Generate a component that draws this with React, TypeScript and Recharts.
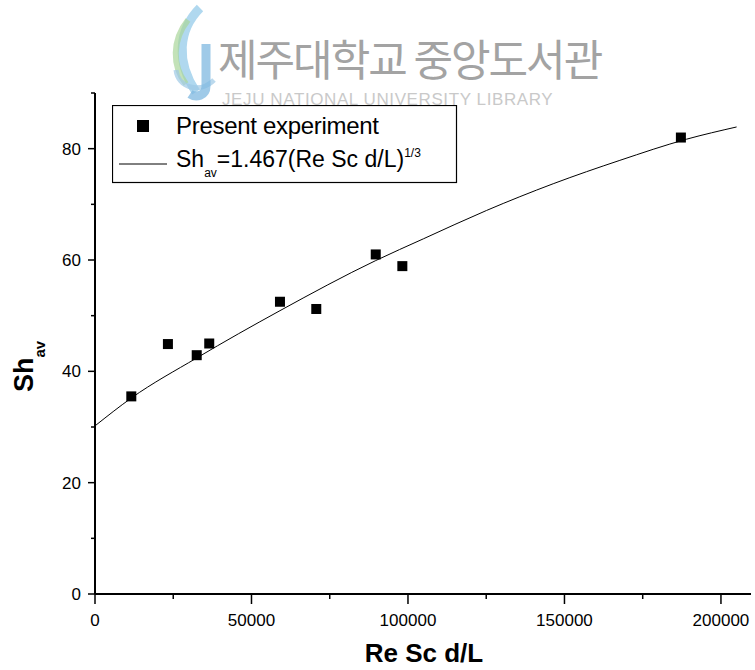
import React from 'react';
import { ComposedChart, XAxis, YAxis, Scatter, Line, Legend } from 'recharts';

// measured points (Re Sc d/L, Sh_av)
const expX = [11600, 23300, 32500, 36500, 59100, 70700, 89700, 98200, 187200];
const expY = [35.5, 44.9, 42.9, 45.0, 52.5, 51.2, 61.0, 58.9, 82.0];

// correlation curve
const fitX = [0, 11600, 32500, 59100, 89700, 104900, 125100, 146400, 167700, 189000, 205000];
const fitY = [30.2, 35.2, 42.4, 50.9, 59.9, 63.8, 68.9, 73.7, 77.9, 81.7, 83.9];

const xTicks = [0, 25000, 50000, 75000, 100000, 125000, 150000, 175000, 200000];
const yTicks = [0, 10, 20, 30, 40, 50, 60, 70, 80, 90];

const expData = expX.map((x, i) => ({ x, y: expY[i] }));
const fitData = fitX.map((x, i) => ({ x, y: fitY[i] }));

const FONT = 'Arial, "Liberation Sans", Helvetica, sans-serif';

const XTick = ({ x, y, payload }: any) => {
  const major = payload.value % 50000 === 0;
  return (
    <g>
      <line x1={x} y1={y} x2={x} y2={y + (major ? 10 : 5)} stroke="#000" strokeWidth={1.5} />
      {major && (
        <text x={x} y={y + 32} textAnchor="middle" fontSize={17} fontFamily={FONT} fill="#000">
          {payload.value}
        </text>
      )}
    </g>
  );
};

const YTick = ({ x, y, payload }: any) => {
  const major = payload.value % 20 === 0;
  return (
    <g>
      <line x1={x - (major ? 7 : 4)} y1={y} x2={x} y2={y} stroke="#000" strokeWidth={1.5} />
      {major && (
        <text x={x - 14} y={y} dy="0.35em" textAnchor="end" fontSize={17} fontFamily={FONT} fill="#000">
          {payload.value}
        </text>
      )}
    </g>
  );
};

const RightTick = ({ x, y, payload }: any) => {
  const major = payload.value % 20 === 0;
  return <line x1={x} y1={y} x2={x + (major ? 7 : 4)} y2={y} stroke="#000" strokeWidth={1.5} />;
};

const renderLegend = () => (
  <svg width={346} height={79} style={{ display: 'block' }}>
    <rect x={0.5} y={0.5} width={344} height={77} fill="none" stroke="#000" strokeWidth={1.2} />
    <rect x={25} y={15} width={12} height={12} fill="#000" />
    <text x={64} y={29} fontSize={24} fontFamily={FONT} letterSpacing={-0.3} fill="#000">
      Present experiment
    </text>
    <line x1={7} y1={59} x2={55} y2={59} stroke="#000" strokeWidth={1} />
    <text x={64} y={62} fontSize={23} fontFamily={FONT} fill="#000">
      Sh
      <tspan dy={10} fontSize={12}>av</tspan>
      <tspan dy={-10}>=1.467(Re Sc d/L)</tspan>
      <tspan dy={-10} fontSize={12}>1/3</tspan>
    </text>
  </svg>
);

const YTitle = () => (
  <text transform="translate(33,392) rotate(-90)" fontSize={27} fontWeight="bold" fontFamily={FONT} fill="#000">
    Sh
    <tspan dy={12} fontSize={15}>av</tspan>
  </text>
);

const Watermark = () => (
  <div style={{ position: 'absolute', left: 0, top: 0, width: 755, height: 120, pointerEvents: 'none' }}>
    <svg width={755} height={120}>
      <path d="M200 8 C178 30 176 62 196 92" stroke="#8fc7e8" strokeWidth={9} fill="none" opacity={0.7} />
      <path d="M188 20 C172 40 172 66 186 84" stroke="#a9d59a" strokeWidth={6} fill="none" opacity={0.7} />
      <path d="M176 70 C178 88 200 94 214 80" stroke="#9ec9e6" strokeWidth={5} fill="none" opacity={0.7} />
      <path d="M206 44 L206 86 C206 96 196 98 190 94" stroke="#7fb8e0" strokeWidth={9} fill="none" opacity={0.75} />
      <text x={218} y={76} fontSize={43} fontFamily='"Noto Sans CJK KR"' fill="#a3a3a3" letterSpacing={-2}>
        제주대학교 중앙도서관
      </text>
      <text x={222} y={105} fontSize={17} fontFamily={FONT} fill="#c9c9c9" letterSpacing={0.6}>
        JEJU NATIONAL UNIVERSITY LIBRARY
      </text>
    </svg>
  </div>
);

export default function App() {
  return (
    <div style={{ position: 'absolute', left: 0, top: 0, width: 755, height: 670, background: '#fff' }}>
      <ComposedChart width={755} height={670} margin={{ top: 93, right: 4, bottom: 0, left: 0 }}>
        <XAxis
          dataKey="x"
          type="number"
          domain={[0, 209600]}
          ticks={xTicks}
          interval={0}
          height={76}
          tickSize={0}
          tickMargin={0}
          tick={<XTick />}
          axisLine={{ stroke: '#000', strokeWidth: 2 }}
          allowDataOverflow
        />
        <XAxis
          xAxisId="top"
          dataKey="x"
          type="number"
          orientation="top"
          domain={[0, 209600]}
          height={0}
          tick={false}
          tickLine={false}
          axisLine={{ stroke: '#000', strokeWidth: 1.5 }}
          allowDataOverflow
        />
        <YAxis
          type="number"
          domain={[0, 90]}
          ticks={yTicks}
          interval={0}
          width={95}
          tickSize={0}
          tickMargin={0}
          tick={<YTick />}
          axisLine={{ stroke: '#000', strokeWidth: 2 }}
          allowDataOverflow
        />
        <YAxis
          yAxisId="r"
          type="number"
          orientation="right"
          domain={[0, 90]}
          ticks={yTicks}
          interval={0}
          width={0}
          tickSize={0}
          tickMargin={0}
          tick={<RightTick />}
          axisLine={{ stroke: '#000', strokeWidth: 1.5 }}
          allowDataOverflow
        />
        <Line
          data={fitData}
          dataKey="y"
          type="monotone"
          stroke="#000"
          strokeWidth={1}
          dot={false}
          activeDot={false}
          isAnimationActive={false}
        />
        <Scatter
          data={expData}
          dataKey="y"
          fill="#000"
          isAnimationActive={false}
          shape={(p: any) => <rect x={p.cx - 5} y={p.cy - 5} width={10} height={10} fill="#000" />}
        />
        <Legend
          layout="horizontal"
          verticalAlign="middle"
          align="center"
          content={renderLegend}
          wrapperStyle={{ position: 'absolute', left: 112, top: 105, width: 346, height: 79 }}
        />
        <YTitle />
        <text x={424} y={662} textAnchor="middle" fontSize={26} fontWeight="bold" fontFamily={FONT} fill="#000">
          Re Sc d/L
        </text>
      </ComposedChart>
      <Watermark />
    </div>
  );
}
